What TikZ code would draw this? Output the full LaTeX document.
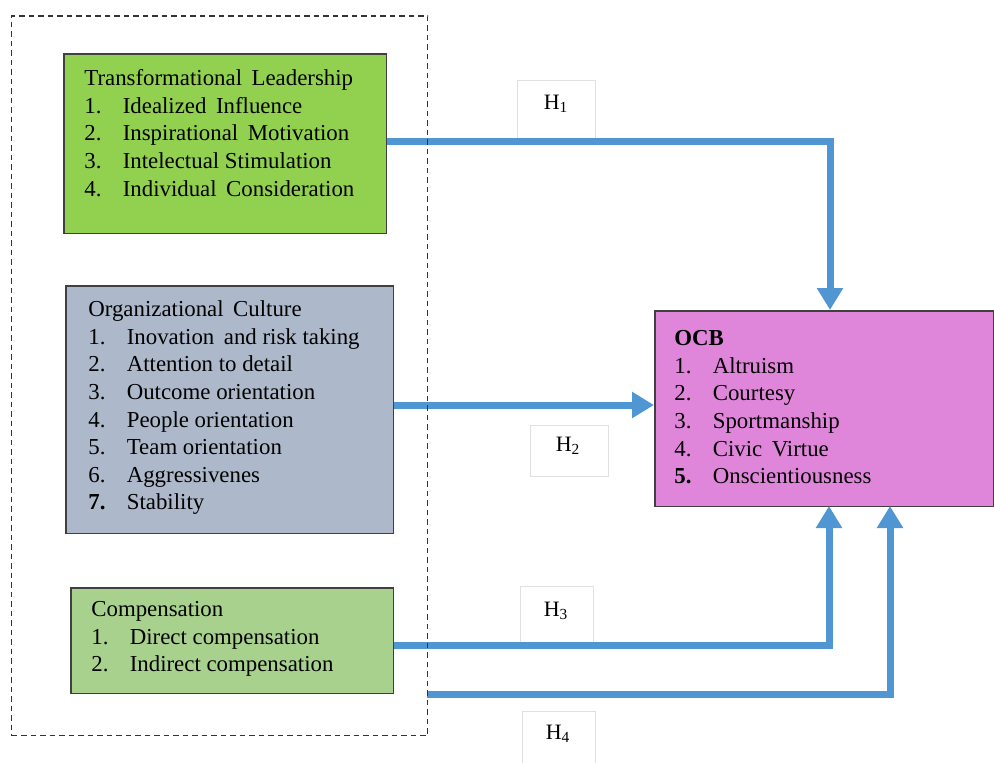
\documentclass[tikz,border=0pt]{standalone}
\usepackage{fontspec}
\setmainfont{Liberation Serif}
\usepackage{array}
\usetikzlibrary{arrows.meta}
\definecolor{tlgreen}{HTML}{92D050}
\definecolor{ocslate}{HTML}{ADB9CA}
\definecolor{cpgreen}{HTML}{A9D18E}
\definecolor{ocbpink}{HTML}{E086DA}
\definecolor{arrowblue}{HTML}{5096D2}
\newcommand{\varlist}[1]{\begin{tabular}{@{}p{0.77cm}@{}l@{}}#1\end{tabular}}
\tikzset{
  varbox/.style={draw=black!75, line width=0.03cm, anchor=north west, inner sep=0pt},
  listtext/.style={anchor=north west, inner sep=0pt, font=\fontsize{13}{15.7}\selectfont},
  hypbox/.style={draw=black!12, fill=white, anchor=north west, inner sep=0pt, line width=0.02cm},
  hyplabel/.style={font=\fontsize{12.5}{15}\selectfont},
  hyparrow/.style={draw=arrowblue, line width=0.14cm, -{Triangle[width=0.5cm,length=0.44cm]}}
}
\begin{document}
\begin{tikzpicture}[x=0.02cm, y=-0.02cm]
\useasboundingbox (0,0) rectangle (994,762);

% variable boxes
\node[varbox, fill=tlgreen, minimum width=6.46cm, minimum height=3.6cm] (tl) at (63,53) {};
\node[varbox, fill=ocslate, minimum width=6.56cm, minimum height=4.96cm] (oc) at (65,285) {};
\node[varbox, fill=cpgreen, minimum width=6.46cm, minimum height=2.12cm] (comp) at (70,587) {};
\node[varbox, fill=ocbpink, minimum width=6.78cm, minimum height=3.92cm] (ocb) at (654,310) {};

\node[listtext] (tltext) at (84,66) {\varlist{
  \multicolumn{2}{@{}l@{}}{Transformational\, Leadership}\\
  1. & Idealized\, Influence\\
  2. & Inspirational\, Motivation\\
  3. & Intelectual Stimulation\\
  4. & Individual\, Consideration}};
\node[listtext] (octext) at (88,297) {\varlist{
  \multicolumn{2}{@{}l@{}}{Organizational\, Culture}\\
  1. & Inovation\, and risk taking\\
  2. & Attention to detail\\
  3. & Outcome orientation\\
  4. & People orientation\\
  5. & Team orientation\\
  6. & Aggressivenes\\
  \textbf{7.} & Stability}};
\node[listtext] (comptext) at (91,597) {\varlist{
  \multicolumn{2}{@{}l@{}}{Compensation}\\
  1. & Direct compensation\\
  2. & Indirect compensation}};
\node[listtext] (ocbtext) at (674,326) {\varlist{
  \multicolumn{2}{@{}l@{}}{\textbf{OCB}}\\
  1. & Altruism\\
  2. & Courtesy\\
  3. & Sportmanship\\
  4. & Civic\, Virtue\\
  \textbf{5.} & Onscientiousness}};

% hypothesis labels
\node[hypbox, minimum width=1.56cm, minimum height=1.16cm] (h1box) at (517,80) {};
\node[hypbox, minimum width=1.56cm, minimum height=1.02cm] (h2box) at (530,425) {};
\node[hypbox, minimum width=1.46cm, minimum height=1.12cm] (h3box) at (520,586) {};
\node[hypbox, minimum width=1.46cm, minimum height=1.2cm] (h4box) at (522,711) {};
\node[hyplabel] (h1) at (556,104) {H\textsubscript{1}};
\node[hyplabel] (h2) at (568,446) {H\textsubscript{2}};
\node[hyplabel] (h3) at (556,611) {H\textsubscript{3}};
\node[hyplabel] (h4) at (558,734) {H\textsubscript{4}};

% arrows
\coordinate (in1) at (830,310);
\coordinate (in3) at (829,506);
\coordinate (in4) at (890,506);
\coordinate (h4start) at (427,694);
\draw[hyparrow] (tl.east |- 0,141) -| (in1);
\draw[hyparrow] (oc.east |- 0,405) -- (ocb.west |- 0,405);
\draw[hyparrow] (comp.east |- 0,645) -| (in3);
\draw[hyparrow] (h4start) -| (in4);

% frame round the independent variables
\node[draw=black!80, dashed, dash pattern=on 0.11cm off 0.08cm, line width=0.03cm,
  anchor=north west, inner sep=0pt, minimum width=8.32cm, minimum height=14.4cm] (frame) at (11,15) {};
\end{tikzpicture}
\end{document}
